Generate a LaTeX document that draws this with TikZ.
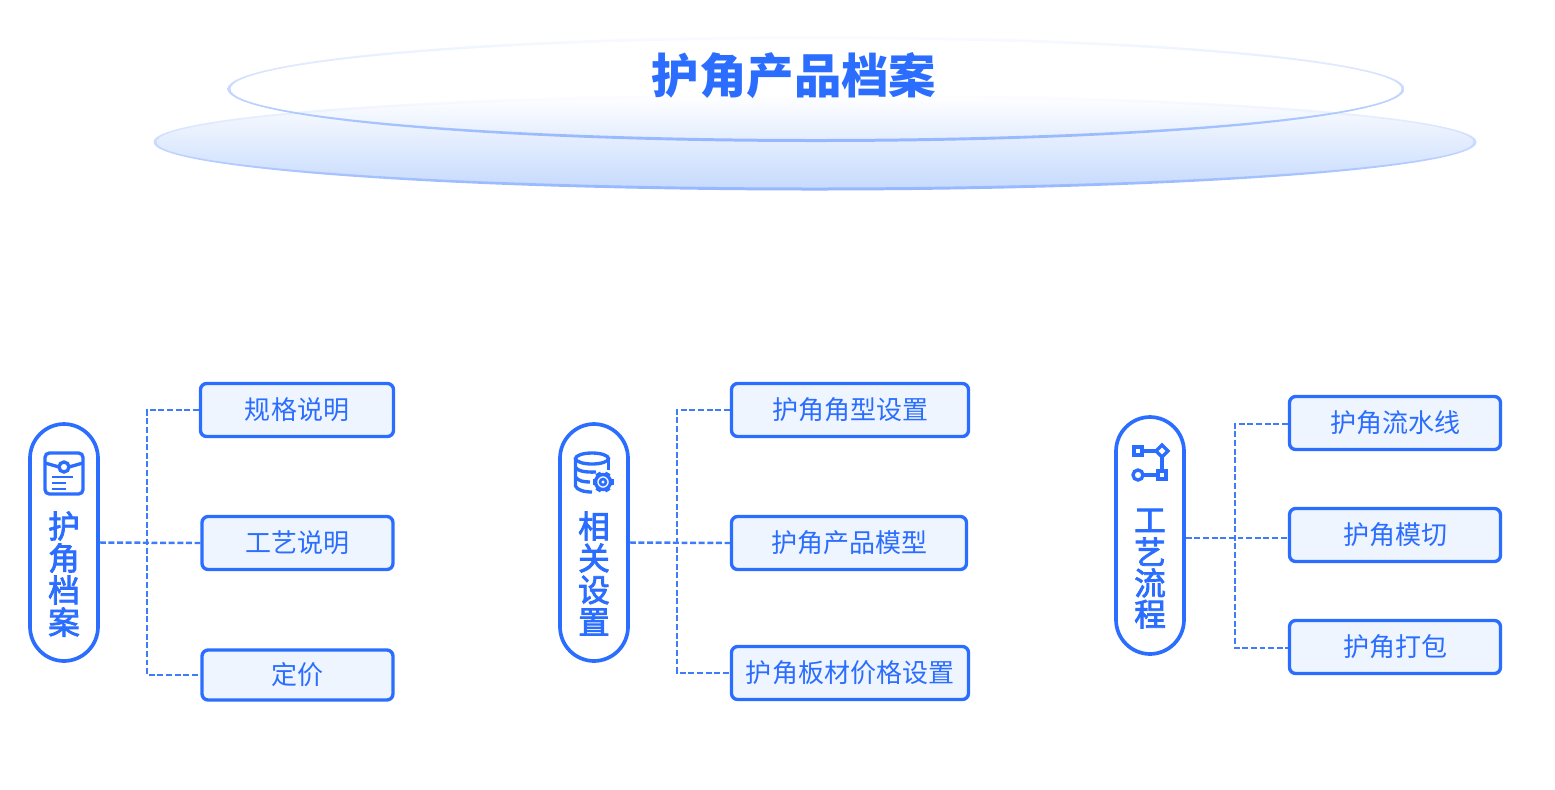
\documentclass[tikz,border=0pt]{standalone}
\usepackage{fontspec}
\usepackage{xcolor}
\setmainfont{Noto Sans CJK SC}
\newfontfamily\pillfont[FakeBold=2.6]{Noto Sans CJK SC}
\definecolor{mainblue}{HTML}{2B6EFF}
\definecolor{linkblue}{HTML}{3F7CFA}
\definecolor{boxfill}{HTML}{EEF5FF}
\definecolor{plateblue}{HTML}{C6DAFD}
\definecolor{ringblue}{HTML}{94B6FF}
\tikzset{
	itembox/.style={draw=mainblue, fill=boxfill, line width=1.9pt, rounded corners=3.5pt, inner sep=0pt, minimum height=53*0.02cm, text=mainblue, font=\fontsize{14.8pt}{16pt}\selectfont},
	pillbox/.style={draw=mainblue, line width=2.1pt, rounded corners=19.5pt, minimum width=68*0.02cm, minimum height=237*0.02cm, inner sep=0pt},
	pillchar/.style={text=mainblue, inner sep=0pt, font=\fontsize{18pt}{18pt}\selectfont\pillfont},
	link/.style={draw=linkblue, line width=1.4pt, dash pattern=on 3.4pt off 1.5pt},
	iconline/.style={draw=mainblue, line width=1.9pt},
}
\begin{document}
\begin{tikzpicture}[x=0.02cm, y=-0.02cm]
	\useasboundingbox (0,0) rectangle (1555,789);
	% plates
	\shade[top color=white, bottom color=plateblue] (815,142) ellipse (660 and 47);
	\shade[even odd rule, top color=white, bottom color=ringblue] (815,142) ellipse (661.5 and 48.5) (815,142) ellipse (658.5 and 45.5);
	\shade[even odd rule, top color=mainblue!2!white, bottom color=ringblue] (816,89) ellipse (588.5 and 53) (816,89) ellipse (585.5 and 50);
	\node[text=mainblue, inner sep=0pt, font=\fontsize{27pt}{30pt}\selectfont\bfseries] (title) at (794,76) {护角产品档案};
	% pills
	\node[pillbox] (pill1) at (64,542.5) {};
	\node[pillbox] (pill2) at (594,542.5) {};
	\node[pillbox] (pill3) at (1150,535.5) {};
	\foreach \ch [count=\i] in {护,角,档,案}
	{
		\pgfmathsetmacro{\yi}{494+32*\i};
		\node[pillchar] (charA\i) at (64,\yi) {\ch};
	}
	\foreach \ch [count=\i] in {相,关,设,置}
	{
		\pgfmathsetmacro{\yi}{494+32*\i};
		\node[pillchar] (charB\i) at (594,\yi) {\ch};
	}
	\foreach \ch [count=\i] in {工,艺,流,程}
	{
		\pgfmathsetmacro{\yi}{489+31.3*\i};
		\node[pillchar] (charC\i) at (1150,\yi) {\ch};
	}
	% boxes
	\node[itembox, minimum width=193*0.02cm] (box11) at (297,410) {规格说明};
	\node[itembox, minimum width=191*0.02cm] (box12) at (297.5,543) {工艺说明};
	\node[itembox, minimum width=191*0.02cm, minimum height=50*0.02cm] (box13) at (297.5,675) {定价};
	\node[itembox, minimum width=237*0.02cm] (box21) at (850,410) {护角角型设置};
	\node[itembox, minimum width=235*0.02cm] (box22) at (849,543) {护角产品模型};
	\node[itembox, minimum width=237*0.02cm] (box23) at (850,673) {护角板材价格设置};
	\node[itembox, minimum width=211*0.02cm] (box31) at (1395,423) {护角流水线};
	\node[itembox, minimum width=211*0.02cm] (box32) at (1395,535) {护角模切};
	\node[itembox, minimum width=211*0.02cm] (box33) at (1395,647) {护角打包};
	% connectors
	\coordinate (trunk1) at (147,543);
	\coordinate (trunk2) at (677,543);
	\coordinate (trunk3) at (1235,538);
	\coordinate (top3) at (1235,424);
	\coordinate (low3) at (1235,648);
	\draw[link] (pill1.east) -- (box12.west);
	\draw[link] (box11.west) -- (box11.west -| trunk1) -- (box13.west -| trunk1) -- (box13.west);
	\draw[link] (pill2.east) -- (box22.west);
	\draw[link] (box21.west) -- (box21.west -| trunk2) -- (box23.west -| trunk2) -- (box23.west);
	\draw[link] (pill3.east |- trunk3) -- (box32.west |- trunk3);
	\draw[link] (box31.west |- top3) -- (top3) -- (low3) -- (box33.west |- low3);
	% file icon
	\draw[iconline, rounded corners=2.5pt] (45,453) rectangle (83,494);
	\draw[iconline] (45,463) -- (59,467) (69,467) -- (83,463);
	\draw[iconline] (64,467) circle (5);
	\draw[iconline, line width=1.5pt] (52,477) -- (73,477) (52,483) -- (66,483) (52,489) -- (66,489);
	% database icon
	\draw[iconline] (592,458.5) ellipse (16.5 and 5.5);
	\draw[iconline] (575.5,458.5) -- (575.5,486) .. controls (577,490) and (584,492) .. (592,492);
	\draw[iconline] (608.5,458.5) -- (608.5,470);
	\draw[iconline] (575.5,467.5) .. controls (578,471) and (585,472.5) .. (596,472);
	\draw[iconline] (575.5,477) .. controls (578,481) and (584,482) .. (590,482);
	\foreach \a in {0,60,...,300}
	{
		\draw[iconline, line width=3pt] (603,482) ++(\a:7) -- ++(\a:3.5);
	}
	\draw[iconline, fill=white] (603,482) circle (7.5);
	\draw[iconline, line width=1.5pt] (603,482) circle (3);
	% flow icon
	\draw[iconline] (1138,451) -- (1162,451) -- (1162,475) -- (1138,475);
	\draw[iconline, fill=white] (1134,447) rectangle (1142,455);
	\draw[iconline, fill=white] (1162,445) -- (1168,451) -- (1162,457) -- (1156,451) -- cycle;
	\draw[iconline, fill=white] (1138,475) circle (5);
	\draw[iconline, fill=white] (1158,471) rectangle (1166,479);
\end{tikzpicture}
\end{document}
